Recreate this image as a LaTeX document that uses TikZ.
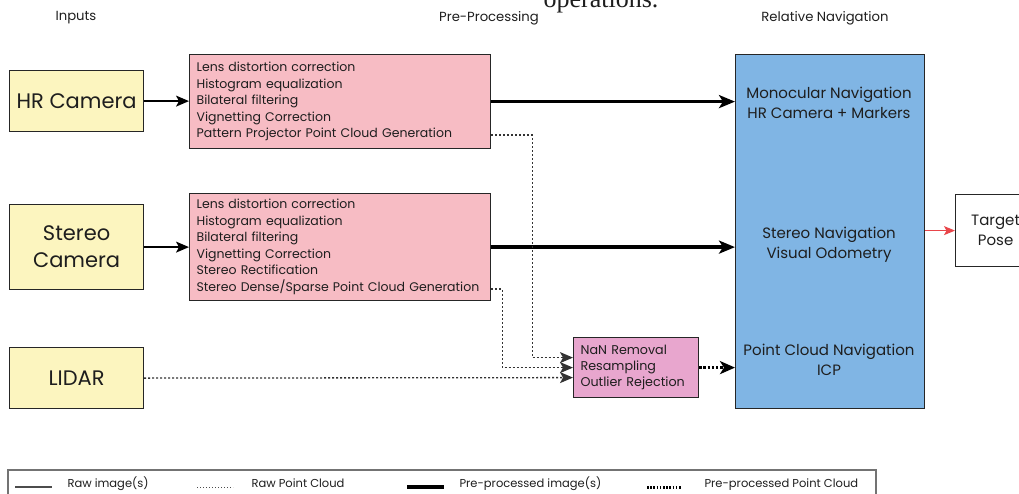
\documentclass[tikz,border=0pt]{standalone}
\usepackage{fontspec}
\setmainfont{Poppins}
\newfontfamily\capfont{Liberation Serif}
\usetikzlibrary{arrows.meta,calc}
\definecolor{inputfill}{HTML}{FCF5BF}
\definecolor{prefill}{HTML}{F7BCC4}
\definecolor{pcfill}{HTML}{E8A6CE}
\definecolor{navfill}{HTML}{80B5E4}
\definecolor{outred}{HTML}{E8454A}
\definecolor{txt}{HTML}{1E1E1E}
\tikzset{
  box/.style={draw=black!85, line width=1.2pt, anchor=north west, inner sep=0pt, text=txt},
  inputbox/.style={box, fill=inputfill, align=center, font=\fontsize{21}{27}\selectfont},
  prebox/.style={box, fill=prefill, align=left, inner xsep=7pt, font=\fontsize{12.5}{16.5}\selectfont},
  pcbox/.style={box, fill=pcfill, align=left, inner xsep=7pt, font=\fontsize{12.7}{16}\selectfont},
  navbox/.style={box, fill=navfill},
  navtext/.style={align=center, text=txt, font=\fontsize{15}{20}\selectfont},
  header/.style={text=txt, font=\fontsize{13.2}{15}\selectfont},
  legtext/.style={anchor=base west, text=txt, font=\fontsize{11.5}{13}\selectfont},
  tip/.style={-{Stealth[length=13pt,width=11pt,inset=3pt]}},
  raw/.style={tip, line width=1.3pt, black},
  rawpc/.style={tip, line width=1.3pt, black!80, dash pattern=on 2pt off 2pt},
  pre/.style={-{Stealth[length=16pt,width=13pt,inset=4pt]}, line width=3.4pt, black},
  prepc/.style={-{Stealth[length=15pt,width=13pt,inset=4pt]}, line width=3.4pt, black, dash pattern=on 2.4pt off 1.8pt},
}
\begin{document}
\begin{tikzpicture}[x=1pt,y=-1pt]
\useasboundingbox (0,0) rectangle (1019,493);

% caption fragment above the figure
\node[anchor=base, font=\capfont\fontsize{26}{30}\selectfont, text=txt] (cap) at (601,7) {operations.};

% column headers
\node[header] (hin) at (76,18) {Inputs};
\node[header] (hpre) at (489,18) {Pre-Processing};
\node[header] (hnav) at (825,18) {Relative Navigation};

% sensors
\node[inputbox, minimum width=134pt, minimum height=61pt] (hr) at (9,70) {HR Camera};
\node[inputbox, minimum width=134pt, minimum height=85pt] (st) at (9,204) {Stereo\\Camera};
\node[inputbox, minimum width=134pt, minimum height=61pt] (lidar) at (9,347) {LIDAR};

% image pre-processing
\node[prebox, text width=287pt, minimum height=94pt] (p1) at (189,54)
  {Lens distortion correction\\Histogram equalization\\Bilateral filtering\\Vignetting Correction\\Pattern Projector Point Cloud Generation};
\node[prebox, text width=287pt, minimum height=107pt] (p2) at (189,193)
  {Lens distortion correction\\Histogram equalization\\Bilateral filtering\\Vignetting Correction\\Stereo Rectification\\Stereo Dense/Sparse Point Cloud Generation};

% point cloud pre-processing
\node[pcbox, text width=111pt, minimum height=60pt] (nan) at (573,337)
  {NaN Removal\\Resampling\\Outlier Rejection};

% navigation block
\node[navbox, minimum width=189pt, minimum height=354pt] (nav) at (735,54) {};
\node[navtext] (nav1) at (829,103) {Monocular Navigation\\HR Camera + Markers};
\node[navtext] (nav2) at (829,245) {Stereo Navigation\\Visual Odometry};
\node[navtext] (nav3) at (829,360) {Point Cloud Navigation\\ICP};

% output
\node[box, minimum width=80pt, minimum height=72pt, align=center, font=\fontsize{15}{20}\selectfont] (pose) at (955,194) {Target\\Pose};

% connectors
\draw[raw] (hr.east) -- (hr.east -| p1.west);
\draw[raw] (st.east) -- (st.east -| p2.west);
\draw[pre] (p1.east) -- (p1.east -| nav.west);
\draw[pre] (p2.east) -- (p2.east -| nav.west);
\draw[rawpc] ($(p1.north east)+(0,81)$) -- ++(41,0) |- ($(nan.west)+(0,-10)$);
\draw[rawpc] ($(p2.north east)+(0,96)$) -- ++(11,0) |- (nan.west);
\draw[rawpc] (lidar.east) -- ($(nan.west)+(0,10)$);
\draw[prepc] (nan.east) -- (nan.east -| nav.west);
\draw[-{Stealth[length=11pt,width=9pt,inset=2.5pt]}, line width=1pt, outred] (nav.east |- pose.west) -- (pose.west);

% legend
\draw[black!55, line width=1.2pt] (8,505) -- (8,470) -- (876,470) -- (876,505);
\draw[black!70, line width=1.2pt] (15,487) -- (52,487);
\node[legtext] (l1) at (64,487) {Raw image(s)};
\draw[black!70, line width=1pt, dash pattern=on 1.2pt off 1.8pt] (197,487) -- (233,487);
\node[legtext] (l2) at (248,487) {Raw Point Cloud};
\draw[black, line width=3.2pt] (407,487) -- (444,487);
\node[legtext] (l3) at (456,487) {Pre-processed image(s)};
\draw[black, line width=3pt, dash pattern=on 1.6pt off 1.6pt] (647,487) -- (682,487);
\node[legtext] (l4) at (701,487) {Pre-processed Point Cloud};
\end{tikzpicture}
\end{document}
